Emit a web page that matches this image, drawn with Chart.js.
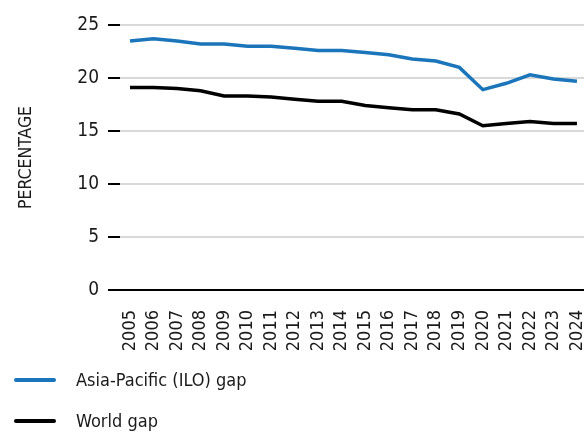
<!DOCTYPE html>
<html>
<head>
<meta charset="utf-8">
<script src="https://cdn.jsdelivr.net/npm/chart.js@4"></script>
<style>
  html, body { margin: 0; padding: 0; background: #fff; }
  #wrap { position: relative; width: 584px; height: 432px; overflow: hidden; }
  canvas { position: absolute; left: 0; top: 0; }
  .leg { position: absolute; left: 0; height: 30px; width: 584px;
         font-family: 'Liberation Sans Narrow', 'DejaVu Sans Condensed', 'Roboto Condensed', sans-serif;
         font-size: 18px; color: #1a1a1a; }
  .leg .sw { position: absolute; left: 14px; width: 42px; height: 4px; top: 13px; border-radius: 2px; }
  .leg .tx { position: absolute; left: 76px; top: 1px; line-height: 28px; }
</style>
</head>
<body>
<div id="wrap">
  <canvas id="c" width="584" height="432"></canvas>
</div>
<script>
const years = [2005, 2006, 2007, 2008, 2009, 2010, 2011, 2012, 2013, 2014,
               2015, 2016, 2017, 2018, 2019, 2020, 2021, 2022, 2023, 2024];
const asiaPacific = [23.5, 23.7, 23.5, 23.2, 23.2, 23.0, 23.0, 22.8, 22.6, 22.6,
                     22.4, 22.2, 21.8, 21.6, 21.0, 18.9, 19.5, 20.3, 19.9, 19.7];
const world = [19.1, 19.1, 19.0, 18.8, 18.3, 18.3, 18.2, 18.0, 17.8, 17.8,
               17.4, 17.2, 17.0, 17.0, 16.6, 15.5, 15.7, 15.9, 15.7, 15.7];
const yTicks = [0, 5, 10, 15, 20, 25];
const seriesNames = ['Asia-Pacific (ILO) gap', 'World gap'];
const seriesColors = ['#1b75bb', '#000000'];

const FONT = "'Liberation Sans Narrow', 'DejaVu Sans Condensed', 'Roboto Condensed', sans-serif";

const toPts = arr => arr.map((v, i) => ({ x: years[i], y: v }));

new Chart(document.getElementById('c'), {
  type: 'line',
  data: {
    datasets: [
      { label: seriesNames[0], data: toPts(asiaPacific), borderColor: seriesColors[0],
        borderWidth: 3.5, pointRadius: 0, tension: 0, fill: false },
      { label: seriesNames[1], data: toPts(world), borderColor: seriesColors[1],
        borderWidth: 3.5, pointRadius: 0, tension: 0, fill: false }
    ]
  },
  options: {
    responsive: false,
    animation: false,
    layout: { padding: { top: 25, right: 0, left: 0, bottom: 0 } },
    plugins: { legend: { display: false }, tooltip: { enabled: false } },
    scales: {
      x: {
        type: 'linear',
        min: 2004.575,
        max: 2024.3,
        grid: { display: false },
        border: { display: false },
        afterBuildTicks: s => { s.ticks = years.map(v => ({ value: v })); },
        afterFit: s => { s.height = 142; s.paddingLeft = 0; s.paddingRight = 0; },
        ticks: {
          autoSkip: false,
          minRotation: 90, maxRotation: 90,
          padding: 12,
          color: '#1a1a1a',
          font: { family: FONT, size: 18 },
          callback: v => String(v)
        }
      },
      y: {
        min: 0, max: 25,
        afterBuildTicks: s => { s.ticks = yTicks.map(v => ({ value: v })); },
        afterFit: s => { s.width = 120; s.paddingTop = 0; s.paddingBottom = 0; },
        border: { display: false },
        grid: {
          color: c => (c.tick && c.tick.value === 0) ? '#000' : '#d9d9d9',
          lineWidth: 2,
          tickColor: '#000',
          tickLength: 12,
          drawTicks: true
        },
        ticks: {
          padding: 9,
          color: '#1a1a1a',
          font: { family: FONT, size: 19 }
        },
        title: {
          display: true,
          text: 'PERCENTAGE',
          color: '#1a1a1a',
          font: { family: FONT, size: 17.5 },
          padding: { top: 16, bottom: 0 }
        }
      }
    }
  }
});

// HTML legend built from the series arrays
const wrap = document.getElementById('wrap');
const legendY = [365, 406];
seriesNames.forEach((name, i) => {
  const d = document.createElement('div');
  d.className = 'leg';
  d.style.top = legendY[i] + 'px';
  const sw = document.createElement('div');
  sw.className = 'sw';
  sw.style.background = seriesColors[i];
  const tx = document.createElement('div');
  tx.className = 'tx';
  tx.textContent = name;
  d.appendChild(sw); d.appendChild(tx);
  wrap.appendChild(d);
});
</script>
</body>
</html>
